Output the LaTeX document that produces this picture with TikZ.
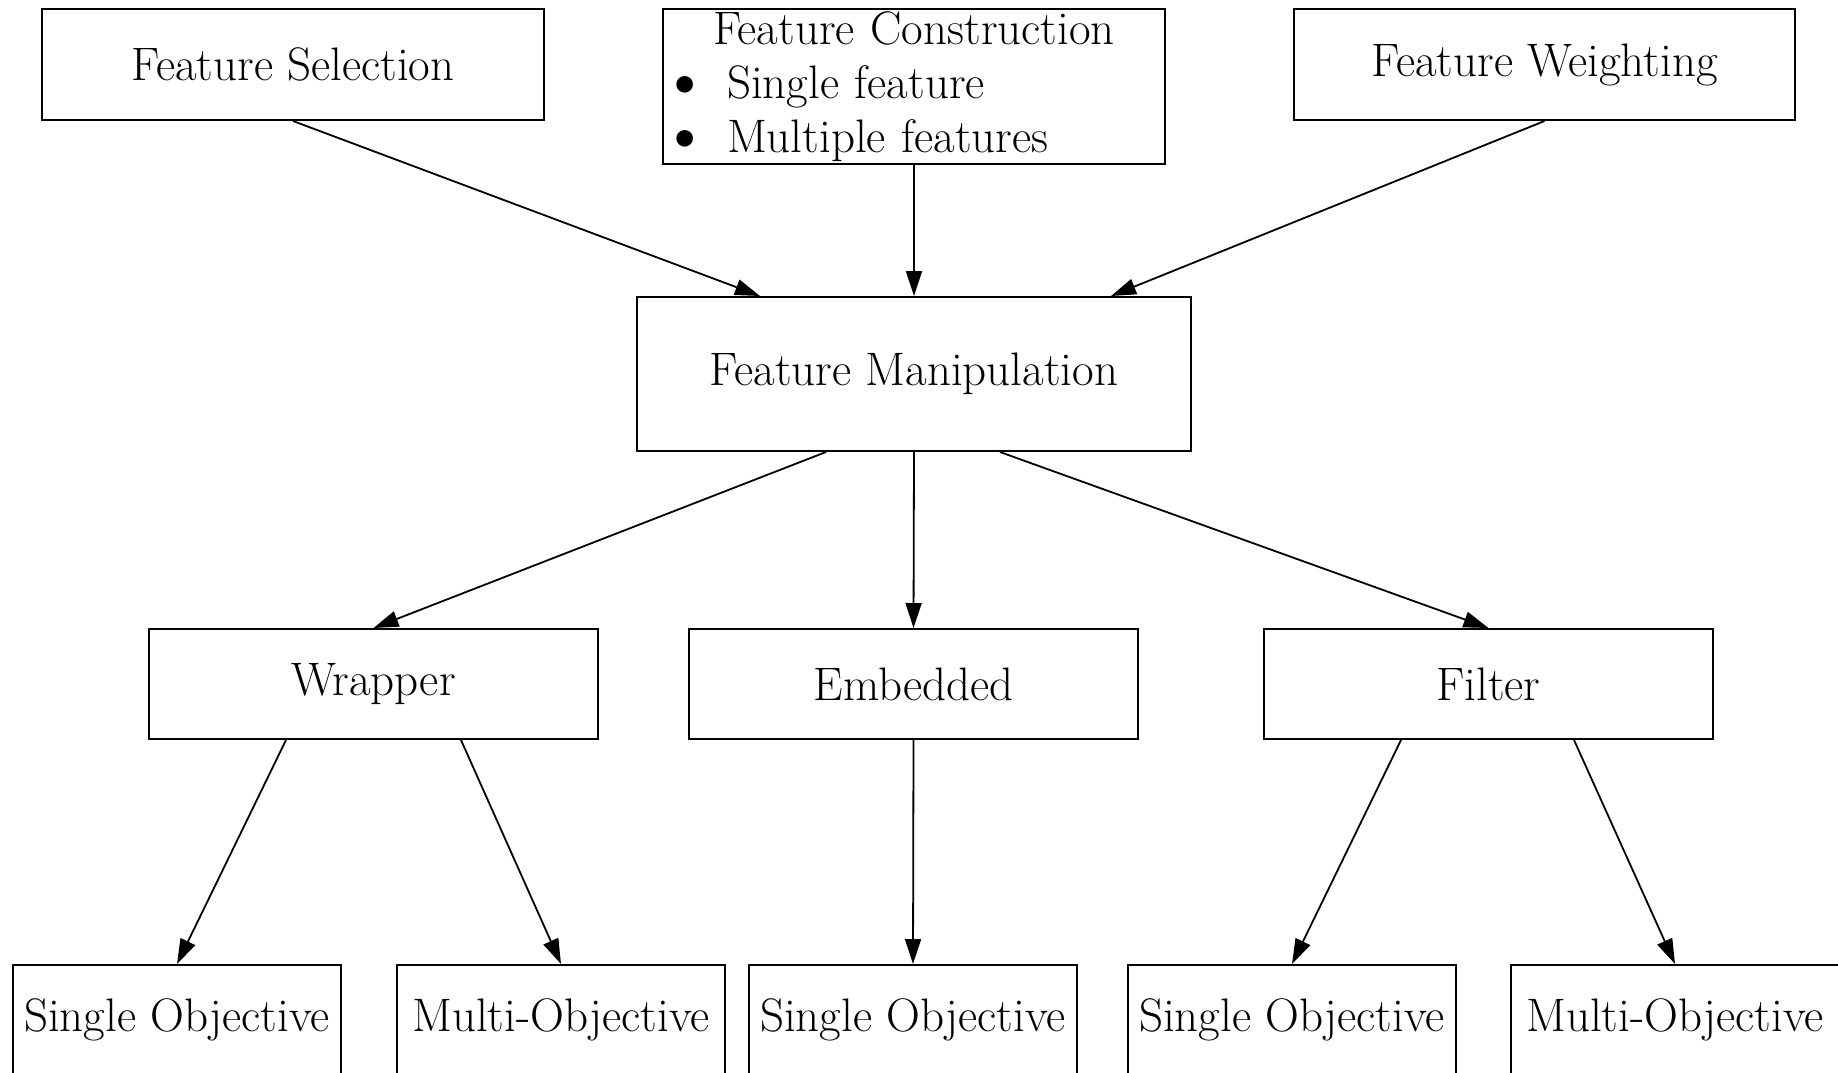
\documentclass[tikz,border=0pt]{standalone}
\usepackage{tikz}
\usetikzlibrary{arrows.meta}
\tikzstyle{process} = [
    rectangle, minimum width=449pt, minimum height=110pt, text centered,
    draw=black, line width=2pt, inner sep=0pt,
    font=\fontsize{47}{54}\selectfont
]
\tikzstyle{objective} = [process, minimum width=328pt]
\tikzstyle{arrow} = [line width=1.8pt,-{Triangle[length=25pt,width=16pt]}]
\newcommand{\bigdot}{\makebox[55pt][l]{\hspace*{-14pt}%
    \smash{\raisebox{-6pt}{\fontsize{74}{54}\selectfont\textbullet}}}}

\begin{document}
\begin{tikzpicture}[x=1pt, y=1pt]
        \clip (0,0) rectangle (1838,-1072);
        \node (fm) [process, minimum width=554pt, minimum height=154pt]
            at (914,-374) {Feature Manipulation};
        \node (fs) [process, minimum width=502pt, minimum height=111pt]
            at (293,-64.5) {Feature Selection};
        \node (fc) [process, minimum width=502pt, minimum height=155pt,
            text width=484pt, align=left] at (914,-86.5)
            {\makebox[\hsize]{Feature Construction}\\
             \bigdot Single feature\\
             \bigdot Multiple features};
        \node (fw) [process, minimum width=501pt, minimum height=111pt]
            at (1544.5,-64.5) {Feature Weighting};

        \node (wrapper) [process] at (373.5,-684) {Wrapper};
        \node (embedded) [process] at (913.5,-684) {Embedded};
        \node (filter) [process] at (1488.5,-684) {Filter};

        \node (so1) [objective] at (177,-1020) {Single Objective};
        \node (mo1) [objective] at (561,-1020) {Multi-Objective};
        \node (so2) [objective] at (913,-1020) {Single Objective};
        \node (so3) [objective] at (1292,-1020) {Single Objective};
        \node (mo2) [objective] at (1675,-1020) {Multi-Objective};

        \draw [arrow] (fs.south) -- ([xshift=-154pt]fm.north);
        \draw [arrow] (fc.south) -- (fm.north);
        \draw [arrow] (fw.south) -- ([xshift=197pt]fm.north);

        \draw [arrow] ([xshift=-88pt]fm.south) -- (wrapper.north);
        \draw [arrow] (fm.south) -- (embedded.north);
        \draw [arrow] ([xshift=86pt]fm.south) -- (filter.north);

        \draw [arrow] ([xshift=-87.5pt]wrapper.south) -- (so1.north);
        \draw [arrow] ([xshift=87.5pt]wrapper.south) -- (mo1.north);
        \draw [arrow] (embedded.south) -- (so2.north);
        \draw [arrow] ([xshift=-87.5pt]filter.south) -- (so3.north);
        \draw [arrow] ([xshift=85.5pt]filter.south) -- (mo2.north);
    \end{tikzpicture}
\end{document}
